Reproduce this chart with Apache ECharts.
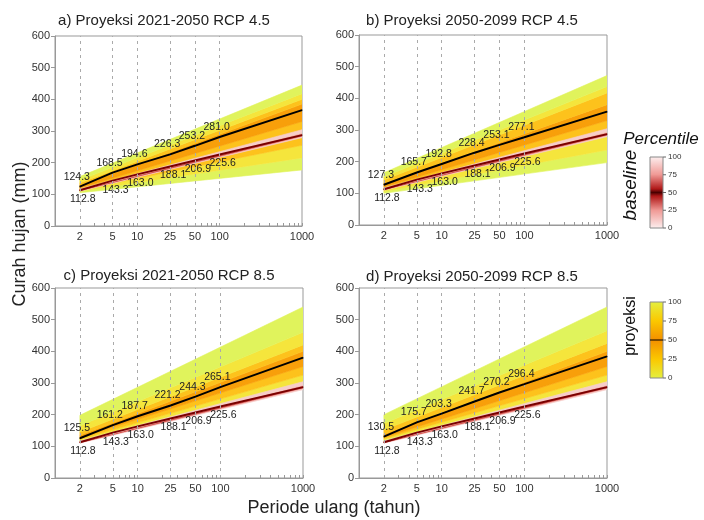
<!DOCTYPE html>
<html><head><meta charset="utf-8">
<script src="https://cdn.jsdelivr.net/npm/echarts@6/dist/echarts.min.js"></script>
<style>html,body{margin:0;padding:0;background:#fff}#c{width:704px;height:520px}</style>
</head><body><div id="c"></div>
<script>
// ---------- data ----------
const returnPeriods = [2, 5, 10, 25, 50, 100, 1000];
const xTickLabels = [2, 5, 10, 25, 50, 100, 1000];
const gridLinePeriods = [2, 5, 10, 25, 50, 100];
const panelTitles = ['a) Proyeksi 2021-2050 RCP 4.5', 'b) Proyeksi 2050-2099 RCP 4.5',
                     'c) Proyeksi 2021-2050 RCP 8.5', 'd) Proyeksi 2050-2099 RCP 8.5'];

// baseline (same in all panels)
const baselineMedian = [112.8, 143.3, 163.0, 188.1, 206.9, 225.6, 287];
const baselineLabels = ['112.8', '143.3', '163.0', '188.1', '206.9', '225.6'];

// projection medians (line as drawn in the picture) and printed labels
const projMedianA = [124.3, 168.5, 194.6, 226.3, 253.2, 281.0, 366];
const projMedianB = [127.3, 165.7, 192.8, 228.4, 253.1, 277.1, 358];
const projMedianC = [125.5, 167, 195, 229, 257, 287, 380];
const projMedianD = [130.5, 175.7, 203.3, 241.7, 270.2, 296.4, 384];
const projLabelsA = ['124.3', '168.5', '194.6', '226.3', '253.2', '281.0'];
const projLabelsB = ['127.3', '165.7', '192.8', '228.4', '253.1', '277.1'];
const projLabelsC = ['125.5', '161.2', '187.7', '221.2', '244.3', '265.1'];
const projLabelsD = ['130.5', '175.7', '203.3', '241.7', '270.2', '296.4'];

// percentile fans, read at T = 2 and T = 1000
const bandPeriods = [2, 1000];
const projPercentiles = [0, 10, 25, 40, 60, 75, 90, 100];
const projBandA_T2    = [105, 110, 114, 120, 128, 136, 145, 156];
const projBandA_T1000 = [177, 215, 255, 330, 385, 400, 418, 445];
const projBandB_T2    = [100, 106, 112, 120, 132, 142, 152, 165];
const projBandB_T1000 = [197, 237, 284, 330, 380, 417, 437, 472];
const projBandC_T2    = [117, 119, 122, 127, 135, 145, 165, 198];
const projBandC_T1000 = [296, 305, 325, 352, 400, 420, 460, 540];
const projBandD_T2    = [117, 120, 124, 128, 138, 152, 172, 200];
const projBandD_T1000 = [296, 305, 325, 352, 400, 425, 465, 540];

const basePercentiles = [0, 25, 40, 60, 75, 100];
const baseBand_T2    = [110, 111.5, 112.3, 113.5, 114.5, 117];
const baseBand_T1000 = [279, 283, 285.5, 289, 293, 304];

const colorbarTicks = ['100', '75', '50', '25', '0'];

// ---------- styling ----------
const projColors = ['#e0f35c', '#f5e53c', '#fdc21c', '#f89f0a', '#fdc21c', '#f5e53c', '#e0f35c'];
const baseColors = ['#f7cdc9', '#ec8f8a', '#c83a36', '#ec8f8a', '#f7cdc9'];
const FONT = '"Liberation Sans", Arial, sans-serif';
const grids = [
  {left: 55, top: 36, width: 247, height: 190},
  {left: 359, top: 35, width: 248, height: 190},
  {left: 55, top: 288, width: 248, height: 190},
  {left: 359, top: 288, width: 248, height: 190}
];
const medians = [projMedianA, projMedianB, projMedianC, projMedianD];
const projLabels = [projLabelsA, projLabelsB, projLabelsC, projLabelsD];
const bandsT2 = [projBandA_T2, projBandB_T2, projBandC_T2, projBandD_T2];
const bandsT1000 = [projBandA_T1000, projBandB_T1000, projBandC_T1000, projBandD_T1000];

const minorTicks = [];
[1, 10, 100].forEach(d => { for (let k = 1; k <= 9; k++) minorTicks.push(k * d); });
minorTicks.push(1000);

function bandItems(t2, t1000) {
  const out = [];
  for (let k = 1; k < t2.length; k++) out.push([t2[k - 1], t2[k], t1000[k - 1], t1000[k]]);
  return out;
}
function fanSeries(i, items, colors, z) {
  return {
    type: 'custom', xAxisIndex: i, yAxisIndex: i, z: z, silent: true, animation: false, clip: true,
    renderItem: (params, api) => {
      const pts = [
        api.coord([bandPeriods[0], api.value(0)]),
        api.coord([bandPeriods[1], api.value(2)]),
        api.coord([bandPeriods[1], api.value(3)]),
        api.coord([bandPeriods[0], api.value(1)])
      ];
      const c = colors[params.dataIndex];
      return {type: 'polygon', shape: {points: pts}, style: {fill: c, stroke: c, lineWidth: 0.6}};
    },
    data: items
  };
}

const xAxes = [], yAxes = [], series = [], graphics = [];
grids.forEach((g, i) => {
  xAxes.push({
    gridIndex: i, type: 'log', logBase: 10, min: 1, max: 1000,
    axisLine: {show: true, lineStyle: {color: '#999'}},
    axisTick: {show: true, inside: true, length: 3, customValues: minorTicks, lineStyle: {color: '#999'}},
    axisLabel: {customValues: xTickLabels, color: '#333', fontSize: 11, fontFamily: FONT, margin: 5,
      formatter: v => String(Math.round(v))},
    splitLine: {show: false}, minorTick: {show: false}
  });
  yAxes.push({
    gridIndex: i, type: 'value', min: 0, max: 600, interval: 100,
    axisLine: {show: true, lineStyle: {color: '#999'}},
    axisTick: {show: true, length: 4, lineStyle: {color: '#999'}},
    axisLabel: {color: '#333', fontSize: 11, fontFamily: FONT, margin: 5},
    splitLine: {show: false}
  });
  // vertical dashed grid lines
  series.push({
    type: 'line', xAxisIndex: i, yAxisIndex: i, data: [], silent: true, z: 1,
    markLine: {
      silent: true, symbol: 'none', label: {show: false}, animation: false,
      lineStyle: {color: '#aaa', type: [3, 4], width: 1},
      data: gridLinePeriods.map(p => ({xAxis: p}))
    }
  });
  series.push(fanSeries(i, bandItems(bandsT2[i], bandsT1000[i]), projColors, 2));
  series.push(fanSeries(i, bandItems(baseBand_T2, baseBand_T1000), baseColors, 3));
  // baseline median
  series.push({
    type: 'line', xAxisIndex: i, yAxisIndex: i, z: 4, animation: false,
    symbol: 'circle', symbolSize: 1, showAllSymbol: true,
    itemStyle: {color: '#7a0000'}, lineStyle: {color: '#7a0000', width: 2},
    label: {show: true, position: 'bottom', distance: 3, offset: [3, 0], color: '#222',
      fontSize: 10.5, fontFamily: FONT,
      formatter: p => p.dataIndex < baselineLabels.length ? baselineLabels[p.dataIndex] : ''},
    data: returnPeriods.map((t, j) => [t, baselineMedian[j]])
  });
  // projection median
  const lbls = projLabels[i];
  series.push({
    type: 'line', xAxisIndex: i, yAxisIndex: i, z: 5, animation: false,
    symbol: 'circle', symbolSize: 1, showAllSymbol: true,
    itemStyle: {color: '#000'}, lineStyle: {color: '#000', width: 2},
    label: {show: true, position: 'top', distance: 4, offset: [-3, 0], color: '#222',
      fontSize: 10.5, fontFamily: FONT,
      formatter: p => p.dataIndex < lbls.length ? lbls[p.dataIndex] : ''},
    data: returnPeriods.map((t, j) => [t, medians[i][j]])
  });
});

// titles
const titlePos = [[164, 21], [472, 21], [169, 276], [472, 277]];
panelTitles.forEach((t, i) => graphics.push({
  type: 'text', x: titlePos[i][0], y: titlePos[i][1],
  style: {text: t, font: '15px ' + FONT, fill: '#222', align: 'center', verticalAlign: 'middle'}
}));
graphics.push({type: 'text', x: 20, y: 234, rotation: Math.PI / 2,
  style: {text: 'Curah hujan (mm)', font: '18px ' + FONT, fill: '#222', align: 'center', verticalAlign: 'middle'}});
graphics.push({type: 'text', x: 334, y: 508,
  style: {text: 'Periode ulang (tahun)', font: '18px ' + FONT, fill: '#222', align: 'center', verticalAlign: 'middle'}});
// legend
graphics.push({type: 'text', x: 661, y: 139,
  style: {text: 'Percentile', font: 'italic 17px ' + FONT, fill: '#111', align: 'center', verticalAlign: 'middle'}});
graphics.push({type: 'text', x: 631, y: 185, rotation: Math.PI / 2,
  style: {text: 'baseline', font: 'italic 19px ' + FONT, fill: '#111', align: 'center', verticalAlign: 'middle'}});
graphics.push({type: 'text', x: 631, y: 326, rotation: Math.PI / 2,
  style: {text: 'proyeksi', font: '16px ' + FONT, fill: '#111', align: 'center', verticalAlign: 'middle'}});
function colorbar(y0, h, stops, midLine) {
  graphics.push({type: 'rect', shape: {x: 650, y: y0, width: 13, height: h},
    style: {fill: {type: 'linear', x: 0, y: 0, x2: 0, y2: 1, colorStops: stops}, stroke: '#888', lineWidth: 1}});
  if (midLine) graphics.push({type: 'line', shape: {x1: 650, y1: y0 + h / 2, x2: 663, y2: y0 + h / 2},
    style: {stroke: '#000', lineWidth: 1}});
  colorbarTicks.forEach((t, k) => {
    const y = y0 + h * k / (colorbarTicks.length - 1);
    graphics.push({type: 'line', shape: {x1: 663, y1: y, x2: 666, y2: y}, style: {stroke: '#666', lineWidth: 1}});
    graphics.push({type: 'text', x: 668, y: y,
      style: {text: t, font: '8px ' + FONT, fill: '#333', align: 'left', verticalAlign: 'middle'}});
  });
}
colorbar(157, 71, [
  {offset: 0, color: '#fdf0f0'}, {offset: 0.25, color: '#f09a96'}, {offset: 0.45, color: '#b01818'},
  {offset: 0.5, color: '#4a0000'}, {offset: 0.55, color: '#b01818'}, {offset: 0.75, color: '#f09a96'},
  {offset: 1, color: '#fdf0f0'}], false);
colorbar(302, 76, [
  {offset: 0, color: '#e4f040'}, {offset: 0.25, color: '#fbc800'}, {offset: 0.5, color: '#f39000'},
  {offset: 0.75, color: '#fbc800'}, {offset: 1, color: '#e4f040'}], true);

const chart = echarts.init(document.getElementById('c'), null, {renderer: 'canvas'});
chart.setOption({
  animation: false,
  grid: grids.map(g => Object.assign({show: true, borderColor: '#999', borderWidth: 1, backgroundColor: 'transparent'}, g)),
  xAxis: xAxes, yAxis: yAxes, series: series, graphic: graphics
});
</script></body></html>
